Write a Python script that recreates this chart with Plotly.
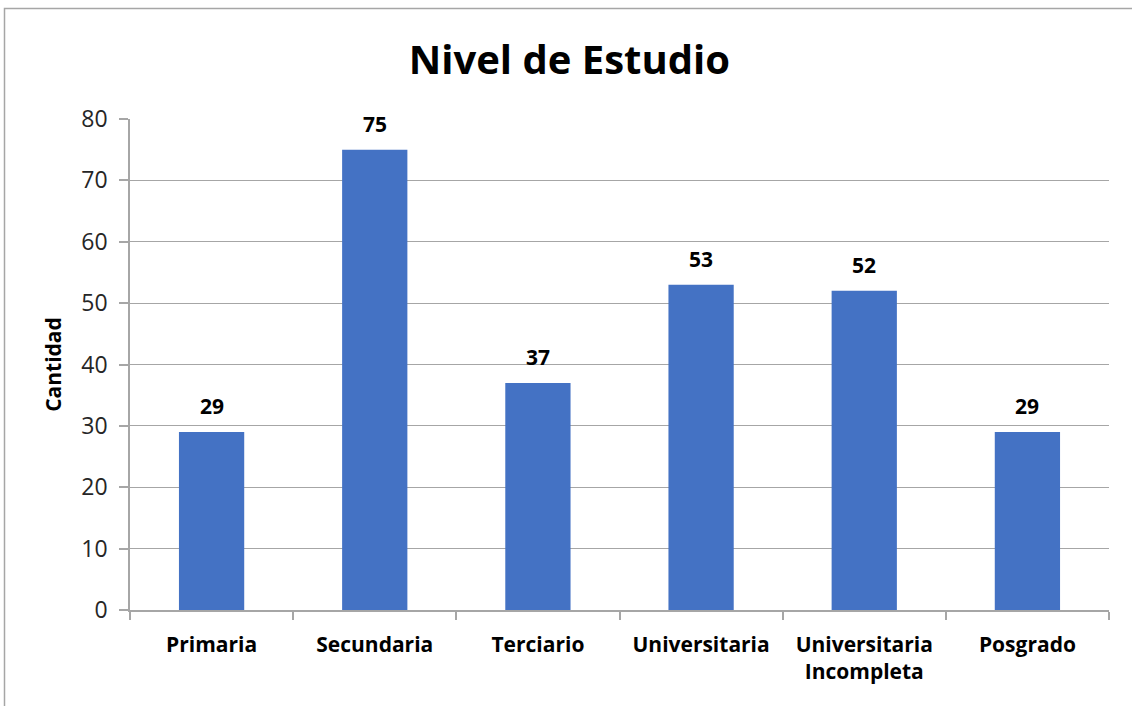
import plotly.graph_objects as go

categories = ["Primaria", "Secundaria", "Terciario", "Universitaria", "Universitaria<br>Incompleta", "Posgrado"]
values = [29, 75, 37, 53, 52, 29]
y_ticks = [0, 10, 20, 30, 40, 50, 60, 70, 80]

W, H = 1132, 706
ml, mr, mt, mb = 130, 23, 119, 96
pw, ph = W - ml - mr, H - mt - mb

fig = go.Figure()
fig.add_trace(go.Bar(
    x=categories, y=values,
    marker=dict(color="#4472C4", line=dict(width=0)),
    width=0.4,
    hoverinfo="x+y",
))

for c, v in zip(categories, values):
    fig.add_annotation(x=c, y=v, text=f"<b>{v}</b>", showarrow=False,
                       yanchor="bottom", yshift=10,
                       font=dict(family="Open Sans", size=21, color="#000000"))

# chart border
fig.add_shape(type="rect", xref="paper", yref="paper",
              x0=(4.5 - ml) / pw, x1=(1140 - ml) / pw,
              y0=(H - mb - 712) / ph, y1=(H - mb - 8.5) / ph,
              line=dict(color="#A6A6A6", width=1.5), fillcolor="rgba(0,0,0,0)", layer="below")

fig.update_layout(
    width=W, height=H,
    margin=dict(l=ml, r=mr, t=mt, b=mb),
    paper_bgcolor="white", plot_bgcolor="white",
    showlegend=False,
    title=dict(text="<b>Nivel de Estudio</b>", x=0.503, xanchor="center",
               y=1 - 60 / H, yanchor="middle",
               font=dict(family="Open Sans", size=40, color="#000000")),
    xaxis=dict(
        showline=True, linecolor="#A6A6A6", linewidth=1.5,
        ticks="outside", tickson="boundaries", ticklen=8, tickcolor="#A6A6A6", tickwidth=1.5,
        ticklabelstandoff=15,
        tickfont=dict(family="Open Sans", size=21, color="#000000"),
        tickprefix="<b>", ticksuffix="</b>",
        showgrid=False,
    ),
    yaxis=dict(
        range=[0, 80], tickvals=y_ticks,
        showline=True, linecolor="#A6A6A6", linewidth=1.5,
        ticks="outside", ticklen=9, tickcolor="#A6A6A6", tickwidth=1.5,
        ticklabelstandoff=7,
        showgrid=True, gridcolor="#A6A6A6", gridwidth=1.2,
        zeroline=False,
        tickfont=dict(family="Open Sans", size=23, color="#262626"),
        title=dict(text="<b>Cantidad</b>", standoff=14,
                   font=dict(family="Open Sans", size=21, color="#000000")),
    ),
)

fig.write_html("out.html", config={"displayModeBar": False},
               post_script="document.body.style.margin='0';document.body.style.overflow='hidden';")
